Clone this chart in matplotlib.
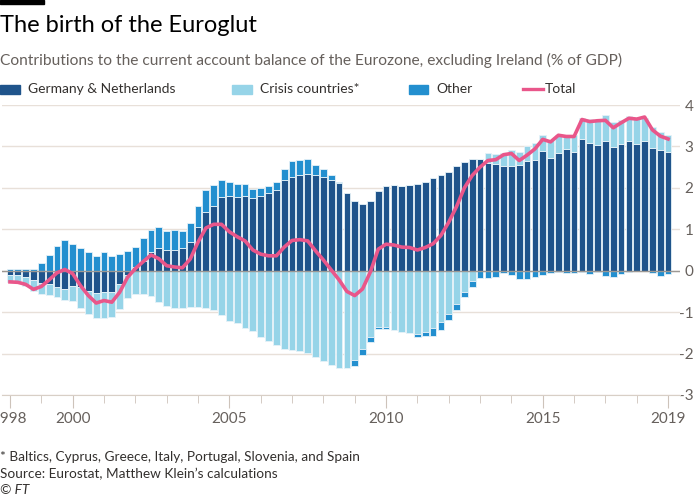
import matplotlib
matplotlib.use("Agg")
import matplotlib.pyplot as plt
import numpy as np
from matplotlib.patches import Rectangle
from matplotlib.lines import Line2D

plt.rcParams['font.family'] = ['Lato', 'DejaVu Sans']

# quarterly data, 1998Q1 .. 2019Q1 (% of GDP)
germany_nl = [-0.10, -0.10, -0.15, -0.23, -0.30, -0.31, -0.39, -0.44, -0.36, -0.40,
              -0.48, -0.53, -0.52, -0.52, -0.32, -0.10, 0.10, 0.24, 0.44, 0.55,
              0.50, 0.51, 0.54, 0.69, 1.06, 1.41, 1.57, 1.77, 1.81, 1.77,
              1.81, 1.75, 1.81, 1.88, 1.96, 2.18, 2.27, 2.30, 2.34, 2.31,
              2.26, 2.20, 2.12, 1.87, 1.68, 1.60, 1.68, 1.93, 2.04, 2.06,
              2.04, 2.06, 2.10, 2.15, 2.24, 2.30, 2.38, 2.52, 2.62, 2.70,
              2.69, 2.60, 2.58, 2.53, 2.53, 2.54, 2.65, 2.67, 2.89, 2.73,
              2.85, 2.94, 2.86, 3.17, 3.08, 3.04, 3.13, 2.98, 3.06, 3.12,
              3.06, 3.12, 2.97, 2.92, 2.86]
crisis = [-0.18, -0.18, -0.22, -0.27, -0.25, -0.27, -0.24, -0.27, -0.36, -0.50,
          -0.56, -0.61, -0.63, -0.60, -0.60, -0.55, -0.55, -0.56, -0.60, -0.75,
          -0.85, -0.89, -0.90, -0.87, -0.87, -0.91, -0.95, -1.06, -1.21, -1.27,
          -1.39, -1.45, -1.61, -1.69, -1.79, -1.90, -1.91, -1.94, -1.98, -2.08,
          -2.19, -2.27, -2.35, -2.34, -2.15, -1.90, -1.61, -1.35, -1.35, -1.44,
          -1.49, -1.51, -1.53, -1.48, -1.39, -1.23, -1.05, -0.81, -0.52, -0.24,
          0.00, 0.24, 0.24, 0.31, 0.39, 0.32, 0.35, 0.41, 0.38, 0.43,
          0.43, 0.34, 0.42, 0.52, 0.59, 0.61, 0.62, 0.62, 0.59, 0.61,
          0.63, 0.57, 0.51, 0.44, 0.41]
other = [0.04, 0.04, 0.05, 0.05, 0.18, 0.38, 0.59, 0.74, 0.65, 0.54,
         0.44, 0.35, 0.44, 0.35, 0.40, 0.47, 0.48, 0.55, 0.54, 0.50,
         0.47, 0.47, 0.43, 0.46, 0.50, 0.53, 0.50, 0.41, 0.34, 0.33,
         0.29, 0.22, 0.19, 0.17, 0.19, 0.28, 0.37, 0.38, 0.35, 0.25,
         0.20, 0.10, 0.02, -0.02, -0.14, -0.14, -0.10, -0.05, -0.05, 0.00,
         0.01, 0.01, -0.08, -0.10, -0.19, -0.21, -0.15, -0.15, -0.12, -0.15,
         -0.18, -0.18, -0.15, -0.06, -0.10, -0.20, -0.20, -0.15, -0.10, -0.05,
         -0.03, -0.06, -0.05, -0.04, -0.08, -0.04, -0.12, -0.15, -0.08, -0.04,
         0.00, 0.00, -0.06, -0.12, -0.08]
total = [-0.27, -0.28, -0.33, -0.45, -0.38, -0.22, -0.05, 0.03, -0.07, -0.36,
         -0.60, -0.78, -0.72, -0.76, -0.52, -0.16, 0.05, 0.22, 0.38, 0.29,
         0.12, 0.09, 0.07, 0.28, 0.69, 1.03, 1.12, 1.12, 0.94, 0.82,
         0.72, 0.50, 0.40, 0.36, 0.36, 0.57, 0.73, 0.75, 0.72, 0.48,
         0.26, 0.02, -0.22, -0.50, -0.60, -0.44, -0.03, 0.52, 0.64, 0.62,
         0.57, 0.56, 0.50, 0.56, 0.65, 0.85, 1.17, 1.55, 2.00, 2.30,
         2.50, 2.66, 2.68, 2.80, 2.83, 2.66, 2.79, 2.94, 3.17, 3.11,
         3.27, 3.24, 3.24, 3.65, 3.60, 3.62, 3.63, 3.45, 3.57, 3.68,
         3.66, 3.71, 3.40, 3.25, 3.18]

series = [("Germany & Netherlands", germany_nl, "#1f548b"),
          ("Crisis countries*", crisis, "#96d4e8"),
          ("Other", other, "#238fcf")]
x = 1998 + np.arange(len(total)) * 0.25

fig = plt.figure(figsize=(7, 5), dpi=100)
ax = fig.add_axes([2 / 700, 0.21, 678 / 700, 0.58])

# diverging stack: positives upward, negatives downward
pos = np.zeros(len(x))
neg = np.zeros(len(x))
for name, vals, col in series:
    v = np.array(vals)
    base = np.where(v >= 0, pos, neg)
    ax.bar(x, v, width=0.215, bottom=base, color=col, edgecolor="#e6f2f8",
           linewidth=0.6, zorder=2)
    pos += np.clip(v, 0, None)
    neg += np.clip(v, None, 0)

ax.axhline(0, color="#9c9894", lw=1, zorder=3)
ax.plot(x, total, color="#e9568a", lw=2.6, zorder=4, solid_joinstyle="round")

ax.set_xlim(1997.745, 2019.38)
ax.set_ylim(-3, 4)
ax.set_yticks(range(-3, 5))
ax.set_yticklabels([str(v) for v in range(-3, 5)], ha="right")
ax.yaxis.tick_right()
ax.tick_params(axis="y", length=0, pad=9.5, labelsize=11, labelcolor="#66605c")
ax.grid(axis="y", color="#e8e0d9", lw=1, zorder=0)
for s in ["top", "left", "right"]:
    ax.spines[s].set_visible(False)
ax.spines["bottom"].set_color("#d8cfc6")

major = [1998, 2000, 2005, 2010, 2015, 2019]
ax.set_xticks(major)
ax.set_xticklabels([str(y) for y in major])
ax.set_xticks([y for y in range(1998, 2020) if y not in major], minor=True)
ax.tick_params(axis="x", which="major", length=9, color="#cdc3ba", pad=3,
               labelsize=11, labelcolor="#66605c")
ax.tick_params(axis="x", which="minor", length=6, color="#cdc3ba")

# header
fig.add_artist(Rectangle((0, 496 / 500), 44 / 700, 4 / 500, color="black",
                         transform=fig.transFigure))
fig.text(0, 1 - 26 / 500, "The birth of the Euroglut", fontsize=17,
         color="#000000", va="center", ha="left")
fig.text(0, 1 - 60 / 500, "Contributions to the current account balance of the "
         "Eurozone, excluding Ireland (% of GDP)", fontsize=11.2, color="#66605c",
         va="center", ha="left")

# legend
ly = 1 - 89 / 500
for x0, w, label, col in [(0, 20, "Germany & Netherlands", "#1f548b"),
                          (232, 20, "Crisis countries*", "#96d4e8"),
                          (409, 19, "Other", "#238fcf")]:
    fig.add_artist(Rectangle((x0 / 700, ly - 4.5 / 500), w / 700, 9 / 500,
                             color=col, transform=fig.transFigure))
    fig.text((x0 + w + 8) / 700, ly, label, fontsize=10, color="#33302e",
             va="center", ha="left")
fig.add_artist(Line2D([523 / 700, 543 / 700], [ly, ly], color="#e9568a", lw=2.4,
                      transform=fig.transFigure))
fig.text(545 / 700, ly, "Total", fontsize=10, color="#33302e", va="center", ha="left")

# footer
fig.text(0, 1 - 457 / 500, "* Baltics, Cyprus, Greece, Italy, Portugal, Slovenia, and Spain",
         fontsize=9.8, color="#33302e", va="center")
fig.text(0, 1 - 474 / 500, "Source: Eurostat, Matthew Klein\u2019s calculations",
         fontsize=9.8, color="#33302e", va="center")
fig.text(0, 1 - 490 / 500, "\u00a9 FT", fontsize=9.8, color="#33302e", va="center",
         style="italic")

fig.savefig("out.png", dpi=100)
